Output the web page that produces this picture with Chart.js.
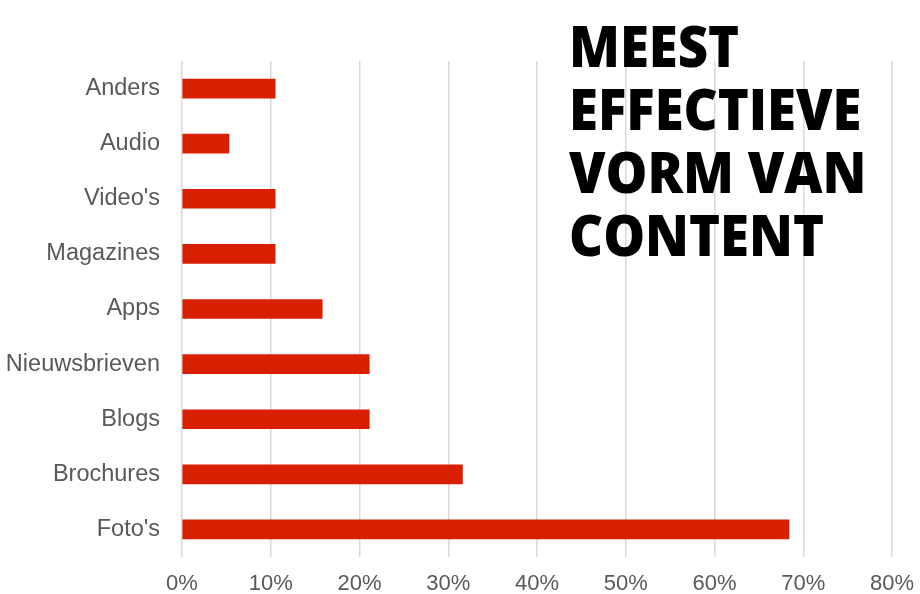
<!DOCTYPE html>
<html>
<head>
<meta charset="utf-8">
<script src="https://cdn.jsdelivr.net/npm/chart.js@4/dist/chart.umd.min.js"></script>
<style>
  html, body { margin: 0; padding: 0; background: #fff; }
  #wrap { position: relative; width: 920px; height: 594px; }
  #titel {
    position: absolute; left: 569px; top: 14px;
    font-family: "Open Sans", sans-serif; font-weight: 800;
    font-size: 56px; line-height: 63px; color: #000;
    white-space: nowrap;
    transform: scaleX(0.94); transform-origin: left top;
  }
</style>
</head>
<body>
<div id="wrap">
  <canvas id="myChart" width="920" height="594"></canvas>
  <div id="titel">MEEST<br>EFFECTIEVE<br>VORM VAN<br>CONTENT</div>
</div>
<script>
// categorieen en waarden (percentages)
const categorieen = ["Anders", "Audio", "Video's", "Magazines", "Apps", "Nieuwsbrieven", "Blogs", "Brochures", "Foto's"];
const waarden = [10.5, 5.3, 10.5, 10.5, 15.8, 21.1, 21.1, 31.6, 68.4];
const xTicks = [0, 10, 20, 30, 40, 50, 60, 70, 80];

const ctx = document.getElementById("myChart").getContext("2d");
new Chart(ctx, {
    type: "bar",
    data: {
        labels: categorieen,
        datasets: [{
            data: waarden,
            backgroundColor: "#d81f00",
            borderWidth: 0,
            barThickness: 19
        }]
    },
    options: {
        indexAxis: "y",
        responsive: false,
        animation: false,
        layout: { padding: { top: 61, right: 28, left: 0, bottom: 0 } },
        plugins: { legend: { display: false }, tooltip: { enabled: false } },
        scales: {
            x: {
                min: 0, max: 80,
                afterBuildTicks: (axis) => { axis.ticks = xTicks.map(v => ({ value: v })) },
                afterFit: (axis) => {
                    axis.height = 37
                    axis.paddingLeft = 0
                    axis.paddingRight = 0
                },
                border: { display: false },
                grid: { color: "#d9d9d9", lineWidth: 1.5, drawTicks: false },
                ticks: {
                    color: "#595959", padding: 14,
                    font: { family: "Liberation Sans", size: 22 },
                    callback: (v) => v + "%"
                }
            },
            y: {
                afterFit: (axis) => { axis.width = 182 },
                border: { display: false },
                grid: { display: false },
                ticks: {
                    color: "#595959", padding: 14,
                    font: { family: "Liberation Sans", size: 23.5 }
                }
            }
        }
    }
});
</script>
</body>
</html>
